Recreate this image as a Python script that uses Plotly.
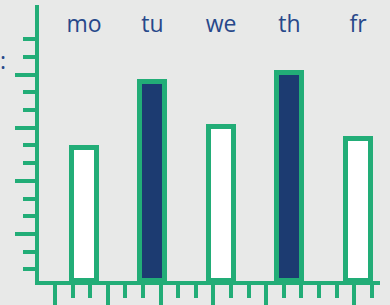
import plotly.graph_objects as go

days = ["mo", "tu", "we", "th", "fr"]
values = [7.49, 11.22, 8.68, 11.73, 8.0]
fills = ["#ffffff", "#1c3b71", "#ffffff", "#1c3b71", "#ffffff"]

GREEN = "#22ad77"
BG = "#e8e9e8"
TEXT = "#27488a"

fig = go.Figure()
fig.add_trace(go.Bar(
    x=days, y=values, width=0.365,
    marker=dict(color=fills, line=dict(color=GREEN, width=5)),
    xaxis="x", yaxis="y", hoverinfo="skip",
))
# helper invisible trace so the bottom tick axis is drawn
fig.add_trace(go.Scatter(x=[-0.657, 4.321], y=[0, 0], mode="lines",
                         line=dict(width=0, color="rgba(0,0,0,0)"),
                         xaxis="x2", yaxis="y", hoverinfo="skip", showlegend=False))

step = 17.6 / 68.5
t0 = -0.423
fig.update_layout(
    width=390, height=305,
    margin=dict(l=39, r=10, t=5, b=24, autoexpand=False),
    paper_bgcolor=BG, plot_bgcolor=BG,
    showlegend=False,
    bargap=0,
    hovermode=False,
    xaxis=dict(
        type="category", range=[-0.657, 4.321], side="top", automargin=False,
        ticklabelposition="inside", ticklabelstandoff=8, ticks="", showline=False,
        showgrid=False, zeroline=False,
        tickfont=dict(family="Open Sans", size=23, color=TEXT),
    ),
    xaxis2=dict(
        range=[-0.657, 4.321], overlaying="x", side="bottom", anchor="y",
        automargin=False,
        showline=True, linecolor=GREEN, linewidth=4,
        showgrid=False, zeroline=False, showticklabels=False,
        ticks="outside", ticklen=20, tickwidth=4, tickcolor=GREEN,
        tickmode="array", tickvals=[t0 + step * k for k in (0, 3, 6, 9, 12, 17)],
        minor=dict(ticks="outside", ticklen=13, tickwidth=4, tickcolor=GREEN,
                   tick0=t0, dtick=step, showgrid=False),
    ),
    yaxis=dict(
        range=[0, 15.6], showline=True, linecolor=GREEN, linewidth=4,
        automargin=False,
        showgrid=False, zeroline=False, showticklabels=False,
        ticks="outside", ticklen=20, tickwidth=4, tickcolor=GREEN,
        tick0=2.66, dtick=3,
        minor=dict(ticks="outside", ticklen=12, tickwidth=4, tickcolor=GREEN,
                   tick0=0.66, dtick=1, showgrid=False),
    ),
    annotations=[dict(text=":", xref="paper", yref="paper", x=-0.105, y=0.80,
                      showarrow=False, xanchor="center", yanchor="middle",
                      font=dict(family="Open Sans", size=23, color=TEXT))],
)

fig.write_html("out.html", config={"displayModeBar": False},
               post_script="document.body.style.margin='0';")
